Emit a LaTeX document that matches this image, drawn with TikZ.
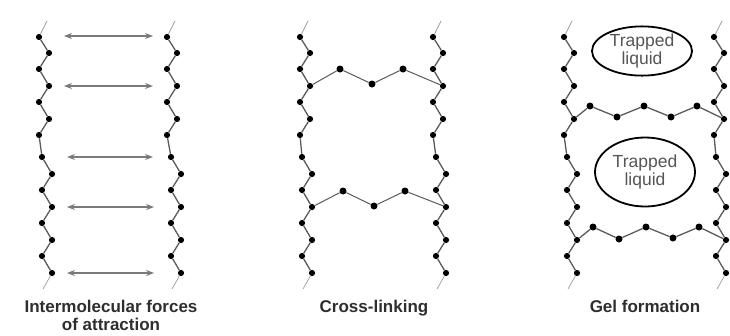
\documentclass[tikz,border=0pt]{standalone}
\usepackage{fontspec}
\setmainfont{Liberation Sans}
\usepackage{tikz}
\usetikzlibrary{arrows.meta,positioning,shapes.geometric}
\definecolor{ChainGray}{HTML}{5A5A5A}
\definecolor{ForceGray}{HTML}{7A7A7A}
\definecolor{TipGray}{HTML}{3C3C3C}
\definecolor{LabelDark}{HTML}{2E2E2E}
\definecolor{LiquidText}{HTML}{555555}
\tikzset{
  bead/.style={circle,fill=black,inner sep=0pt,minimum size=6.2pt},
  linkbead/.style={bead,minimum size=7pt},
  chainline/.style={line width=1.3pt,draw=ChainGray,line join=round},
  tailline/.style={line width=0.7pt,draw=ChainGray!60},
  forcearrow/.style={{Stealth[length=8pt,width=6pt]}-{Stealth[length=8pt,width=6pt]},line width=1.1pt,draw=ForceGray,fill=TipGray},
  liquidbag/.style={ellipse,draw=black,line width=1.8pt,inner sep=0pt,align=center,text=LiquidText,font=\fontsize{17.5}{18.5}\selectfont},
  caption/.style={align=center,text=LabelDark,font=\bfseries\fontsize{17}{18}\selectfont}
}
% one polymer strand: #1 name, #2 x of the upper half, #3 x of the lower half
\newcommand{\polychain}[3]{
  \foreach \i/\dx/\y in {1/0/37,2/10/53,3/0/69,4/10/86,5/0/102,6/10/119,7/0/135}
    \node[bead] (#1-\i) at ({#2+\dx},\y) {};
  \foreach \i/\dx/\y in {8/0/157,9/10/174,10/0/190,11/10/207,12/0/223,13/10/240,14/0/256,15/10/273}
    \node[bead] (#1-\i) at ({#3+\dx},\y) {};
  \coordinate (#1-top) at ({#2+8},21);
  \coordinate (#1-bot) at ({#3+1},289);
  \foreach \i [count=\j from 2] in {1,...,14}
    \draw[chainline] (#1-\i) -- (#1-\j);
  \draw[tailline] (#1-top) -- (#1-1);
  \draw[tailline] (#1-15) -- (#1-bot);
}

\begin{document}
\begin{tikzpicture}[x=1pt,y=-1pt]
\useasboundingbox (0,0) rectangle (730,335);

% strands
\polychain{ia}{39}{42}
\polychain{ib}{167}{171}
\polychain{ca}{300}{302}
\polychain{cb}{433}{436}
\polychain{ga}{564}{567}
\polychain{gb}{714}{716}

% forces of attraction
\foreach \n/\y/\xa/\xb in {1/36/64/153,2/86/64/153,3/157/67/153,4/207/67/154,5/273/67/154} {
  \coordinate (fl-\n) at (\xa,\y);
  \coordinate (fr-\n) at (\xb,\y);
  \draw[forcearrow] (fl-\n) -- (fr-\n);
}

% cross-links
\node[linkbead] (cu-1) at (340,69) {};
\node[linkbead] (cu-2) at (372,84) {};
\node[linkbead] (cu-3) at (403,69) {};
\draw[chainline,line width=1pt] (ca-4) -- (cu-1) -- (cu-2) -- (cu-3) -- (cb-4);
\node[linkbead] (cl-1) at (343,191) {};
\node[linkbead] (cl-2) at (374,206) {};
\node[linkbead] (cl-3) at (405,191) {};
\draw[chainline,line width=1pt] (ca-11) -- (cl-1) -- (cl-2) -- (cl-3) -- (cb-11);

% gel network
\foreach \n/\x/\y in {1/590/106,2/617/117,3/644/106,4/671/117,5/697/106}
  \node[linkbead] (gu-\n) at (\x,\y) {};
\draw[chainline] (ga-6) -- (gu-1) -- (gu-2) -- (gu-3) -- (gu-4) -- (gu-5) -- (gb-6);
\foreach \n/\x/\y in {1/593/227,2/619/239,3/646/227,4/673/238,5/699/227}
  \node[linkbead] (gl-\n) at (\x,\y) {};
\draw[chainline] (ga-13) -- (gl-1) -- (gl-2) -- (gl-3) -- (gl-4) -- (gl-5) -- (gb-13);

\node[liquidbag,minimum width=100pt,minimum height=38pt] (liq1) at (642,51) {Trapped\\liquid};
\node[liquidbag,minimum width=100pt,minimum height=69pt] (liq2) at (645,172) {Trapped\\liquid};

% captions
\node[caption,anchor=north] (capA) at (111,297) {Intermolecular forces\\of attraction};
\node[caption,anchor=north] (capB) at (374,297) {Cross-linking};
\node[caption,anchor=north] (capC) at (645,297) {Gel formation};
\end{tikzpicture}
\end{document}
